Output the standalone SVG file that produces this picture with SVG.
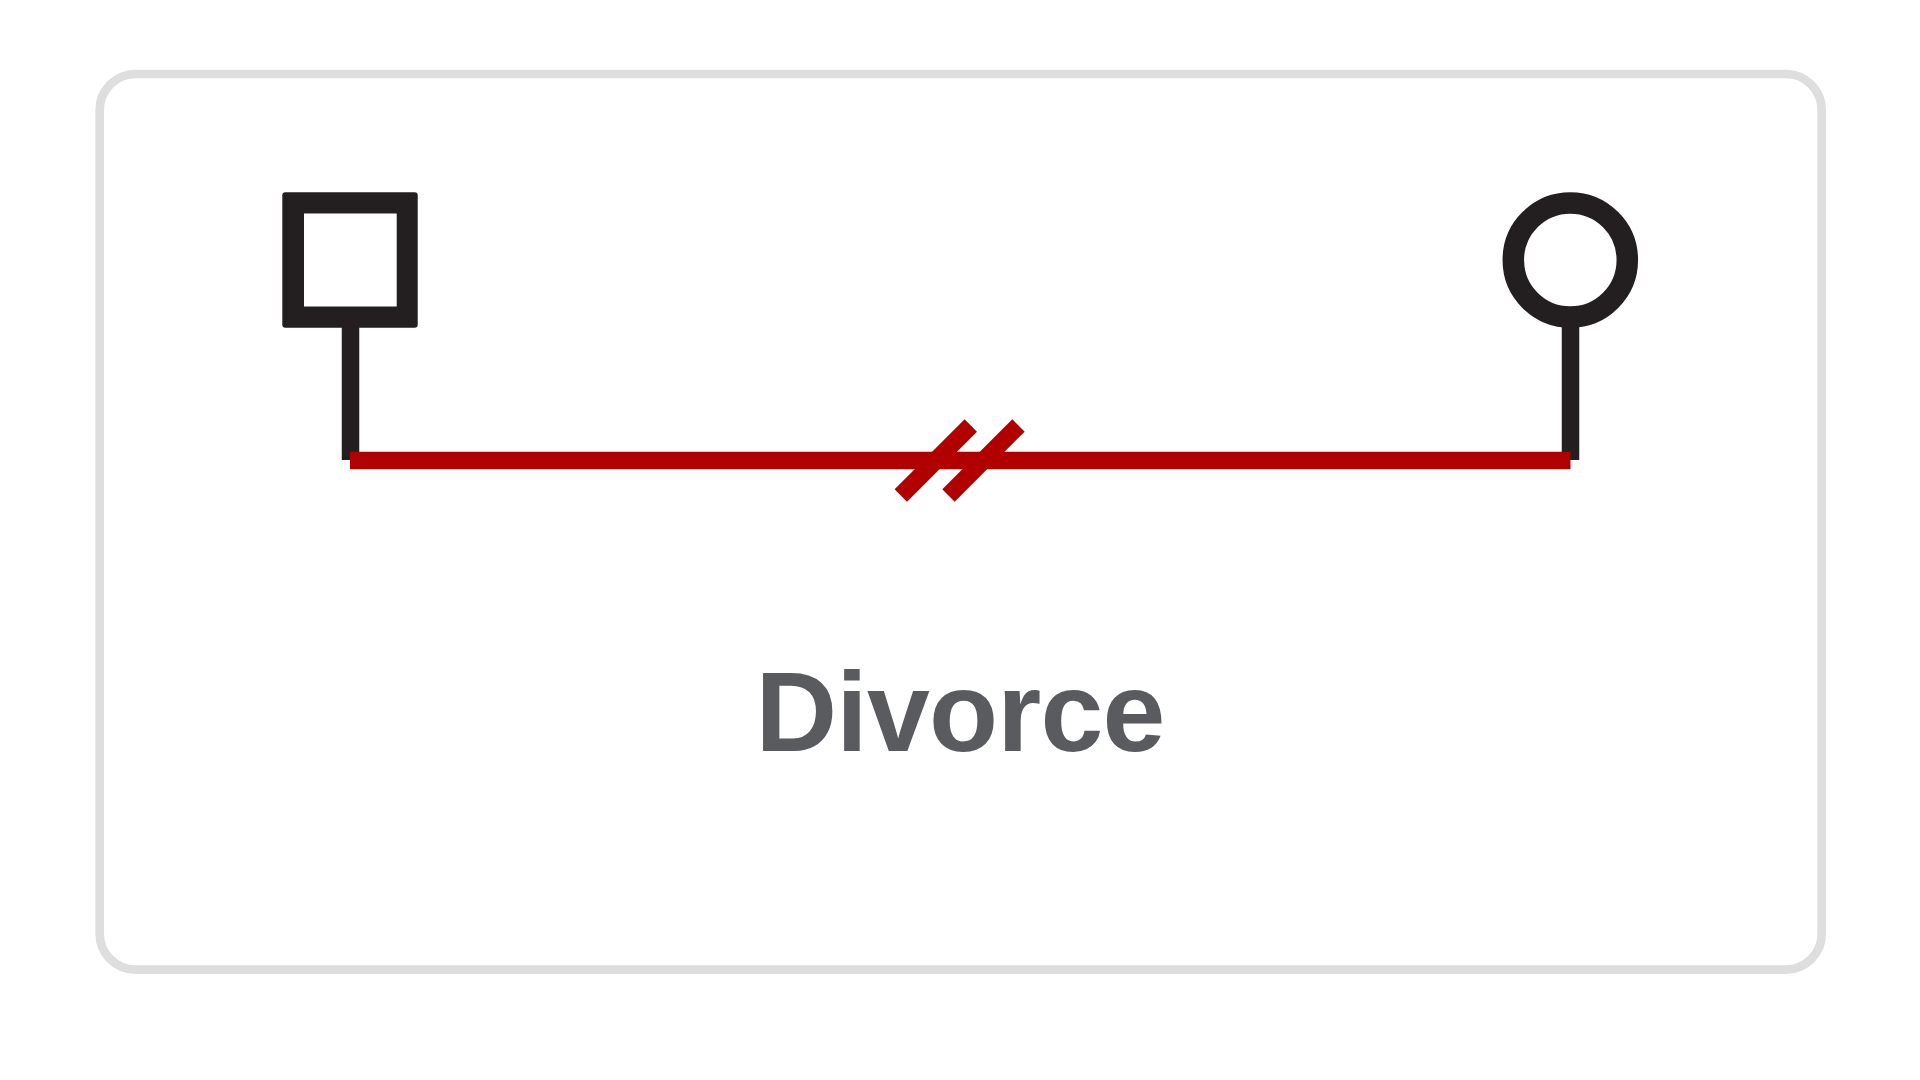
<svg xmlns="http://www.w3.org/2000/svg" width="1920" height="1080" viewBox="0 0 1920 1080">
<style>
.frame{fill:#ffffff;stroke:#dedede;stroke-width:8.7}
.sym{fill:#ffffff;stroke:#231f20;stroke-width:21.5}
.ink{fill:#231f20}
.hole{fill:#ffffff}
.stem{stroke:#231f20;stroke-width:17.5;fill:none}
.rel{stroke:#b00000;stroke-width:17.5;fill:none}
.label{font-family:"Liberation Sans",Arial,sans-serif;font-weight:bold;font-size:113px;letter-spacing:-0.8px;fill:#5a5b5e;text-anchor:middle}
</style>
<rect x="0" y="0" width="1920" height="1080" fill="#ffffff"/>
<rect class="frame" x="99.7" y="74" width="1722" height="895.7" rx="36" ry="36"/>
<g id="connectors">
<line class="stem" x1="350.5" y1="327" x2="350.5" y2="460"/>
<line class="stem" x1="1570.5" y1="327" x2="1570.5" y2="460"/>
<line class="rel" x1="350" y1="460.5" x2="1570.5" y2="460.5"/>
<line class="rel" x1="970.8" y1="425.5" x2="900.8" y2="495.5"/>
<line class="rel" x1="1018.5" y1="425.5" x2="948.5" y2="495.5"/>
</g>
<g id="male">
<rect class="ink" x="282.3" y="192.3" width="135.4" height="135.4" rx="3"/>
<rect class="hole" x="304" y="213.5" width="92.7" height="93"/>
</g>
<g id="female">
<circle class="sym" cx="1570.3" cy="260" r="57"/>
</g>
<g id="label">
<text class="label" x="960" y="751">Divorce</text>
</g>
</svg>
